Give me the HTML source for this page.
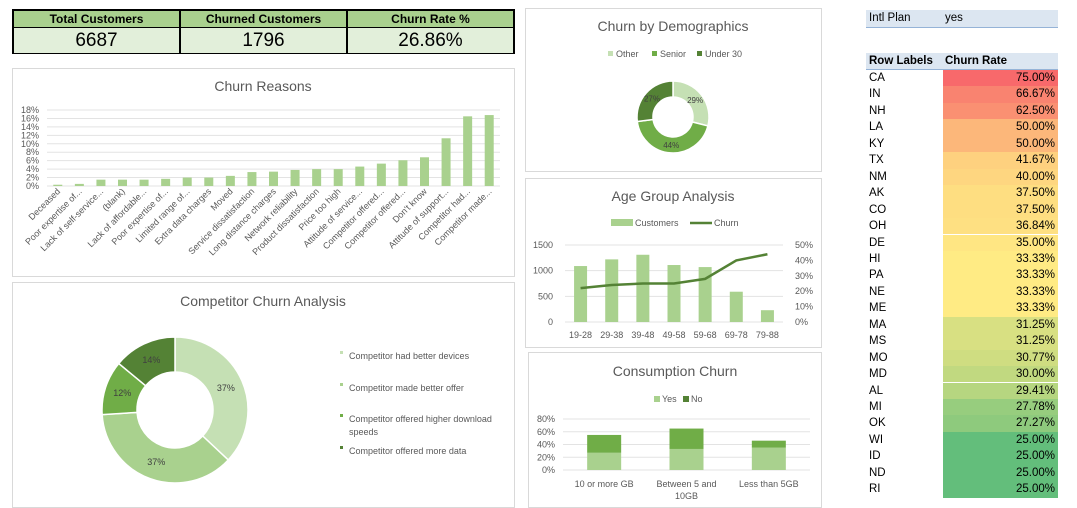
<!DOCTYPE html>
<html><head><meta charset="utf-8">
<style>
body{margin:0;width:1077px;height:508px;background:#fff;font-family:"Liberation Sans",sans-serif;position:relative;overflow:hidden}
.panel{position:absolute;border:1px solid #d9d9d9;background:#fff;box-sizing:border-box}
svg{position:absolute;left:0;top:0}
.kpi{position:absolute;top:9px;left:12px;width:503px;height:45px;border:2px solid #000;box-sizing:border-box;display:flex}
.kc{flex:1;border-right:2px solid #000;display:flex;flex-direction:column}
.kc:last-child{border-right:none}
.kh{height:16px;background:#a9d08e;font-weight:bold;font-size:12px;text-align:center;line-height:16px;border-bottom:1px solid #000}
.kv{flex:1;background:#e2efda;font-size:19px;text-align:center;line-height:25px}
.tbl{position:absolute;left:866px;font-size:11.5px;color:#000}
.row{position:absolute;left:0;width:192px;height:16.4px;line-height:16.4px}
.row .s{position:absolute;left:3px}
.row .v{position:absolute;left:77px;width:115px;text-align:right;padding-right:3px;box-sizing:border-box;height:100%}
</style></head><body>

<div class="kpi">
 <div class="kc"><div class="kh">Total Customers</div><div class="kv">6687</div></div>
 <div class="kc"><div class="kh">Churned Customers</div><div class="kv">1796</div></div>
 <div class="kc"><div class="kh">Churn Rate %</div><div class="kv">26.86%</div></div>
</div>

<div class="panel" style="left:12px;top:68px;width:503px;height:209px"></div>
<div class="panel" style="left:12px;top:282px;width:503px;height:226px"></div>
<div class="panel" style="left:525px;top:8px;width:297px;height:164px"></div>
<div class="panel" style="left:525px;top:178px;width:297px;height:170px"></div>
<div class="panel" style="left:528px;top:352px;width:294px;height:156px"></div>

<svg id="chart" width="1077" height="508" font-family="Liberation Sans, sans-serif"></svg>

<div class="tbl" style="top:0;width:192px">
 <div style="position:absolute;top:10px;left:0;width:192px;height:17px;background:#dce6f1;border-bottom:1px solid #95b3d7;line-height:17px"><span style="position:absolute;left:3px">Intl Plan</span><span style="position:absolute;left:79px">yes</span></div>
 <div style="position:absolute;top:53px;left:0;width:192px;height:16px;background:#dce6f1;border-bottom:1px solid #95b3d7;line-height:16px;font-weight:bold"><span style="position:absolute;left:3px">Row Labels</span><span style="position:absolute;left:79px">Churn Rate</span></div>
 <div id="rows"></div>
</div>

<script>
const NS='http://www.w3.org/2000/svg';
const svg=document.getElementById('chart');
function el(tag,attrs,parent){const e=document.createElementNS(NS,tag);for(const k in attrs)e.setAttribute(k,attrs[k]);(parent||svg).appendChild(e);return e;}
function txt(x,y,s,size,fill,anchor,parent){const t=el('text',{x:x,y:y,'font-size':size,fill:fill||'#595959','text-anchor':anchor||'start'},parent);t.textContent=s;return t;}

// ---------- Churn Reasons data ----------
const reasonLabels=["Deceased","Poor expertise of...","Lack of self-service...","(blank)","Lack of affordable...","Poor expertise of...","Limited range of...","Extra data charges","Moved","Service dissatisfaction","Long distance charges","Network reliability","Product dissatisfaction","Price too high","Attitude of service...","Competitor offered...","Competitor offered...","Don't know","Attitude of support...","Competitor had...","Competitor made..."];
const reasonValues=[0.3,0.5,1.5,1.5,1.5,1.7,2.0,2.0,2.4,3.3,3.4,3.8,4.0,4.0,4.6,5.3,6.1,6.8,11.3,16.5,16.8];
const reasonTicks=[0,2,4,6,8,10,12,14,16,18];

(function(){
 const x0=47,x1=500,y0=186,y1=110;
 const ys=v=>y0-(v/18)*(y0-y1);
 const bw=(x1-x0)/reasonValues.length;
 const g=el('g',{});
 
 
 const t=txt(263,91,'Churn Reasons',14,'#595959','middle',g);
 
 
 reasonTicks.forEach(v=>{
  el('line',{x1:x0,x2:x1,y1:ys(v),y2:ys(v),stroke:'#e3e3e3','stroke-width':1},g);
  const l=txt(x0-8,ys(v)+3,v+'%',9,'#595959','end',g);
  
  
 });
 reasonValues.forEach((v,i)=>{
  const cx=x0+bw*(i+0.5);
  const r=el('rect',{x:cx-4.5,y:ys(v),width:9,height:y0-ys(v),fill:'#a9d18e'},g);
  
  
  const l=txt(0,0,reasonLabels[i],9,'#595959','end',g);
  l.setAttribute('transform','translate('+(cx+3)+','+(y0+6)+') rotate(-45)');
  
  
 });
})();

// ---------- Competitor donut ----------
const compLabels=["Competitor had better devices","Competitor made better offer","Competitor offered higher download speeds","Competitor offered more data"];
const compValues=[37,37,12,14];
const compColors=['#c5e0b4','#a9d18e','#70ad47','#548235'];

function donut(cx,cy,R,r,vals,cols,parent,labels,lsize,nameP){
 const tot=vals.reduce((a,b)=>a+b,0);let a=-Math.PI/2;
 vals.forEach((v,i)=>{
  const b=a+v/tot*2*Math.PI;const lg=(b-a)>Math.PI?1:0;
  const p=[cx+R*Math.cos(a),cy+R*Math.sin(a),cx+R*Math.cos(b),cy+R*Math.sin(b),cx+r*Math.cos(b),cy+r*Math.sin(b),cx+r*Math.cos(a),cy+r*Math.sin(a)];
  const d=`M${p[0]},${p[1]} A${R},${R} 0 ${lg} 1 ${p[2]},${p[3]} L${p[4]},${p[5]} A${r},${r} 0 ${lg} 0 ${p[6]},${p[7]}Z`;
  const s=el('path',{d:d,fill:cols[i],stroke:'#fff','stroke-width':1.5},parent);
  
  
  const m=(a+b)/2,rr=(R+r)/2;
  const l=txt(cx+rr*Math.cos(m),cy+rr*Math.sin(m)+3,Math.round(v/tot*100)+'%',lsize,'#404040','middle',parent);
  
  
  a=b;
 });
}
(function(){
 const g=el('g',{});
 
 
 const t=txt(263,306,'Competitor Churn Analysis',14,'#595959','middle',g);
 
 
 donut(175,410,73,38,compValues,compColors,g,compLabels,9,'competitor');
 const ly=[356,388,419,451];
 compLabels.forEach((s,i)=>{
  const k=el('rect',{x:340,y:ly[i]-5,width:3,height:3,fill:compColors[i]},g);
  
  
  if(i==2){txt(349,ly[i]+3,'Competitor offered higher download',9,'#595959','start',g);txt(349,ly[i]+16,'speeds',9,'#595959','start',g);}
  else{const l=txt(349,ly[i]+3,s,9,'#595959','start',g);}
 });
})();

// ---------- Demographics donut ----------
const demoLabels=["Other","Senior","Under 30"];
const demoValues=[29,44,27];
const demoColors=['#c5e0b4','#70ad47','#548235'];
(function(){
 const g=el('g',{});
 
 
 const t=txt(673,31,'Churn by Demographics',14,'#595959','middle',g);
 
 
 const lx=[608,652,697];
 demoLabels.forEach((s,i)=>{
  el('rect',{x:lx[i],y:51,width:5,height:5,fill:demoColors[i]},g);
  const l=txt(lx[i]+8,57,s,9,'#595959','start',g);
  
  
 });
 donut(673,117,36,20,demoValues,demoColors,g,demoLabels,8,'demographics');
})();

// ---------- Age group ----------
const ageCats=["19-28","29-38","39-48","49-58","59-68","69-78","79-88"];
const ageCustomers=[1090,1220,1310,1110,1070,590,230];
const ageChurn=[22,24,25,25,28,40,44];
const ageLeftTicks=[0,500,1000,1500];
const ageRightTicks=[0,10,20,30,40,50];
(function(){
 const x0=565,x1=783,y0=322,y1=245;
 const yl=v=>y0-v/1500*(y0-y1), yr=v=>y0-v/50*(y0-y1);
 const bw=(x1-x0)/ageCats.length;
 const g=el('g',{});
 
 
 const t=txt(673,201,'Age Group Analysis',14,'#595959','middle',g);
 
 
 el('rect',{x:611,y:219,width:22,height:7,fill:'#a9d18e'},g);
 txt(635,226,'Customers',9,'#595959','start',g);
 el('line',{x1:690,x2:712,y1:223,y2:223,stroke:'#548235','stroke-width':2.5},g);
 txt(714,226,'Churn',9,'#595959','start',g);
 ageLeftTicks.forEach(v=>{
  el('line',{x1:x0,x2:x1,y1:yl(v),y2:yl(v),stroke:'#e3e3e3'},g);
  txt(553,yl(v)+3,String(v),9,'#595959','end',g);
 });
 ageRightTicks.forEach(v=>txt(795,yr(v)+3,v+'%',9,'#595959','start',g));
 let pts=[];
 ageCats.forEach((c,i)=>{
  const cx=x0+bw*(i+0.5);
  const r=el('rect',{x:cx-6.5,y:yl(ageCustomers[i]),width:13,height:y0-yl(ageCustomers[i]),fill:'#a9d18e'},g);
  
  
  txt(cx,338,c,9,'#595959','middle',g);
  pts.push(cx+','+yr(ageChurn[i]));
 });
 const p=el('polyline',{points:pts.join(' '),fill:'none',stroke:'#548235','stroke-width':2.5},g);
 
 
})();

// ---------- Consumption ----------
const consCats=[["10 or more GB"],["Between 5 and","10GB"],["Less than 5GB"]];
const consYes=[27,33,35];
const consNo=[28,32,11];
const consTicks=[0,20,40,80,60];
(function(){
 const x0=563,x1=810,y0=470,y1=419;
 const ys=v=>y0-v/80*(y0-y1);
 const bw=(x1-x0)/consCats.length;
 const g=el('g',{});
 
 
 const t=txt(675,376,'Consumption Churn',14,'#595959','middle',g);
 
 
 el('rect',{x:654,y:396,width:6,height:6,fill:'#a9d18e'},g);
 txt(662,402,'Yes',9,'#595959','start',g);
 el('rect',{x:683,y:396,width:6,height:6,fill:'#548235'},g);
 txt(691,402,'No',9,'#595959','start',g);
 consTicks.forEach(v=>{
  el('line',{x1:x0,x2:x1,y1:ys(v),y2:ys(v),stroke:'#e3e3e3'},g);
  txt(555,ys(v)+3,v+'%',9,'#595959','end',g);
 });
 consCats.forEach((c,i)=>{
  const cx=x0+bw*(i+0.5);
  const a=el('rect',{x:cx-17,y:ys(consYes[i]),width:34,height:y0-ys(consYes[i]),fill:'#a9d18e'},g);
  
  
  const b=el('rect',{x:cx-17,y:ys(consYes[i]+consNo[i]),width:34,height:ys(consYes[i])-ys(consYes[i]+consNo[i]),fill:'#70ad47'},g);
  
  
  c.forEach((s,j)=>txt(cx,487+j*12,s,9,'#595959','middle',g));
 });
})();

// ---------- Table ----------
const states=["CA","IN","NH","LA","KY","TX","NM","AK","CO","OH","DE","HI","PA","NE","ME","MA","MS","MO","MD","AL","MI","OK","WI","ID","ND","RI"];
const rates=[75,66.67,62.5,50,50,41.67,40,37.5,37.5,36.84,35,33.33,33.33,33.33,33.33,31.25,31.25,30.77,30,29.41,27.78,27.27,25,25,25,25];
(function(){
 const host=document.getElementById('rows');
 const mn=25,mid=33.33,mx=75;
 const G=[99,190,123],Y=[255,235,132],R=[248,105,107];
 function col(v){let a,b,t;if(v<=mid){a=G;b=Y;t=(v-mn)/(mid-mn);}else{a=Y;b=R;t=(v-mid)/(mx-mid);}
  return 'rgb('+a.map((x,k)=>Math.round(x+(b[k]-x)*t)).join(',')+')';}
 states.forEach((s,i)=>{
  const d=document.createElement('div');d.className='row';d.style.top=(70+i*16.45)+'px';
  
  
  d.innerHTML='<span class="s">'+s+'</span><span class="v" style="background:'+col(rates[i])+'">'+rates[i].toFixed(2)+'%</span>';
  host.appendChild(d);
 });
})();
</script>
</body></html>
